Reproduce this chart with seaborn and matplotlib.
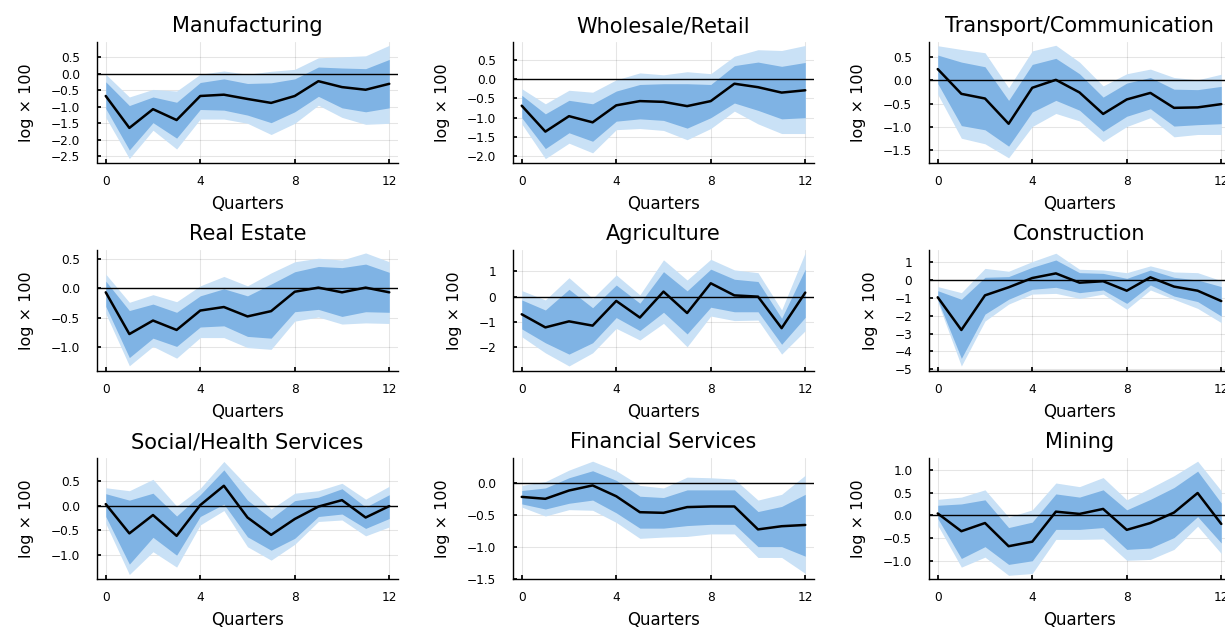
import matplotlib
matplotlib.use("Agg")
import matplotlib.pyplot as plt
from matplotlib.ticker import MultipleLocator
import numpy as np
import pandas as pd
import seaborn as sns

sns.set_theme(style="ticks")
plt.rcParams['font.family'] = ['DejaVu Sans']
plt.rcParams['text.color'] = 'black'
plt.rcParams['axes.labelcolor'] = 'black'

quarters = list(range(13))

titles = ["Manufacturing", "Wholesale/Retail", "Transport/Communication",
          "Real Estate", "Agriculture", "Construction",
          "Social/Health Services", "Financial Services", "Mining"]

# point estimates
mean_manu = [-0.67, -1.64, -1.07, -1.40, -0.67, -0.63, -0.76, -0.88, -0.67, -0.22, -0.40, -0.48, -0.30]
mean_whol = [-0.69, -1.36, -0.96, -1.12, -0.68, -0.57, -0.59, -0.70, -0.57, -0.12, -0.21, -0.35, -0.29]
mean_tran = [0.24, -0.29, -0.39, -0.93, -0.16, 0.01, -0.26, -0.72, -0.41, -0.27, -0.59, -0.58, -0.51]
mean_real = [-0.07, -0.78, -0.55, -0.71, -0.38, -0.32, -0.48, -0.39, -0.06, 0.01, -0.07, 0.01, -0.07]
mean_agri = [-0.70, -1.22, -0.98, -1.15, -0.17, -0.83, 0.20, -0.65, 0.53, 0.05, 0.00, -1.25, 0.16]
mean_cons = [-0.97, -2.80, -0.86, -0.41, 0.11, 0.37, -0.15, -0.07, -0.60, 0.15, -0.37, -0.60, -1.18]
mean_soci = [0.03, -0.56, -0.19, -0.61, 0.01, 0.40, -0.24, -0.59, -0.27, -0.02, 0.11, -0.24, -0.01]
mean_fina = [-0.22, -0.25, -0.12, -0.04, -0.21, -0.46, -0.47, -0.38, -0.37, -0.37, -0.73, -0.68, -0.66]
mean_mini = [0.04, -0.35, -0.17, -0.68, -0.58, 0.08, 0.03, 0.14, -0.32, -0.17, 0.06, 0.49, -0.19]

# inner band (upper / lower)
in_hi_manu = [-0.24, -0.96, -0.70, -0.86, -0.26, -0.15, -0.29, -0.27, -0.15, 0.21, 0.18, 0.16, 0.44]
in_lo_manu = [-1.05, -2.31, -1.48, -1.95, -1.08, -1.10, -1.25, -1.48, -1.15, -0.68, -1.03, -1.15, -1.03]
in_hi_whol = [-0.42, -0.90, -0.55, -0.64, -0.31, -0.14, -0.12, -0.12, -0.14, 0.35, 0.44, 0.33, 0.43]
in_lo_whol = [-1.00, -1.80, -1.39, -1.61, -1.09, -1.03, -1.07, -1.27, -1.00, -0.62, -0.81, -1.03, -1.00]
in_hi_tran = [0.54, 0.39, 0.29, -0.43, 0.34, 0.47, 0.14, -0.36, -0.06, 0.06, -0.19, -0.20, -0.13]
in_lo_tran = [-0.07, -0.97, -1.06, -1.41, -0.68, -0.43, -0.64, -1.09, -0.77, -0.61, -0.98, -0.95, -0.93]
in_hi_real = [0.12, -0.38, -0.27, -0.41, -0.13, -0.01, -0.13, 0.07, 0.28, 0.37, 0.35, 0.41, 0.27]
in_lo_real = [-0.31, -1.18, -0.85, -0.99, -0.66, -0.64, -0.82, -0.85, -0.40, -0.36, -0.48, -0.40, -0.41]
in_hi_agri = [-0.13, -0.53, 0.29, -0.44, 0.46, -0.26, 0.99, 0.23, 1.09, 0.69, 0.60, -0.86, 1.09]
in_lo_agri = [-1.28, -1.83, -2.28, -1.83, -0.83, -1.35, -0.62, -1.48, -0.42, -0.60, -0.60, -1.89, -0.82]
in_hi_cons = [-0.60, -1.08, 0.15, 0.19, 0.71, 1.12, 0.41, 0.37, 0.09, 0.56, 0.15, 0.00, -0.37]
in_lo_cons = [-1.12, -4.39, -1.91, -1.08, -0.52, -0.41, -0.71, -0.56, -1.31, -0.28, -0.90, -1.21, -2.02]
in_hi_soci = [0.24, 0.11, 0.25, -0.21, 0.22, 0.72, 0.11, -0.26, 0.10, 0.17, 0.34, -0.03, 0.22]
in_lo_soci = [-0.22, -1.18, -0.64, -1.00, -0.22, 0.03, -0.63, -0.90, -0.66, -0.22, -0.17, -0.46, -0.26]
in_hi_fina = [-0.12, -0.08, 0.08, 0.19, 0.04, -0.21, -0.23, -0.11, -0.11, -0.11, -0.45, -0.37, -0.18]
in_lo_fina = [-0.33, -0.41, -0.32, -0.27, -0.47, -0.71, -0.71, -0.67, -0.65, -0.65, -1.00, -1.00, -1.15]
in_hi_mini = [0.22, 0.25, 0.34, -0.27, -0.15, 0.47, 0.40, 0.56, 0.12, 0.35, 0.61, 0.97, 0.27]
in_lo_mini = [-0.07, -0.95, -0.69, -1.08, -1.00, -0.31, -0.31, -0.27, -0.75, -0.72, -0.49, -0.03, -0.61]

# outer band (upper / lower)
out_hi_manu = [-0.01, -0.70, -0.47, -0.52, -0.01, 0.09, -0.01, 0.08, 0.14, 0.49, 0.52, 0.55, 0.87]
out_lo_manu = [-1.32, -2.57, -1.71, -2.28, -1.37, -1.37, -1.50, -1.84, -1.50, -0.95, -1.32, -1.53, -1.50]
out_hi_whol = [-0.25, -0.64, -0.29, -0.34, -0.02, 0.16, 0.11, 0.19, 0.14, 0.59, 0.76, 0.74, 0.87]
out_lo_whol = [-1.16, -2.06, -1.66, -1.91, -1.31, -1.28, -1.33, -1.57, -1.28, -0.83, -1.16, -1.41, -1.41]
out_hi_tran = [0.74, 0.66, 0.59, -0.16, 0.63, 0.75, 0.39, -0.12, 0.14, 0.24, 0.06, 0.01, 0.13]
out_lo_tran = [-0.30, -1.24, -1.36, -1.66, -0.99, -0.71, -0.87, -1.31, -0.99, -0.80, -1.21, -1.16, -1.16]
out_hi_real = [0.24, -0.24, -0.11, -0.23, 0.04, 0.20, 0.04, 0.26, 0.45, 0.51, 0.48, 0.60, 0.45]
out_lo_real = [-0.43, -1.32, -0.99, -1.19, -0.84, -0.84, -1.01, -1.04, -0.56, -0.49, -0.61, -0.59, -0.60]
out_hi_agri = [0.24, -0.13, 0.75, -0.07, 0.86, 0.07, 1.46, 0.66, 1.48, 1.06, 0.95, -0.53, 1.75]
out_lo_agri = [-1.59, -2.23, -2.75, -2.23, -1.26, -1.72, -1.06, -1.99, -0.77, -0.95, -0.93, -2.28, -1.35]
out_hi_cons = [-0.37, -0.71, 0.65, 0.49, 1.03, 1.50, 0.60, 0.56, 0.41, 0.79, 0.45, 0.41, -0.04]
out_lo_cons = [-1.23, -4.82, -2.30, -1.35, -0.79, -0.75, -1.03, -0.79, -1.64, -0.56, -1.08, -1.59, -2.39]
out_hi_soci = [0.36, 0.30, 0.53, -0.01, 0.35, 0.89, 0.39, -0.07, 0.25, 0.30, 0.45, 0.13, 0.39]
out_lo_soci = [-0.36, -1.39, -0.93, -1.24, -0.39, -0.10, -0.83, -1.10, -0.78, -0.32, -0.29, -0.61, -0.43]
out_hi_fina = [-0.04, 0.02, 0.20, 0.34, 0.19, -0.04, -0.08, 0.09, 0.08, 0.06, -0.27, -0.18, 0.12]
out_lo_fina = [-0.38, -0.52, -0.42, -0.43, -0.62, -0.87, -0.85, -0.84, -0.80, -0.80, -1.17, -1.17, -1.42]
out_hi_mini = [0.35, 0.40, 0.56, -0.04, 0.12, 0.71, 0.63, 0.83, 0.34, 0.60, 0.87, 1.19, 0.54]
out_lo_mini = [-0.22, -1.14, -0.92, -1.32, -1.28, -0.53, -0.53, -0.52, -0.99, -0.97, -0.75, -0.24, -0.84]

means = [mean_manu, mean_whol, mean_tran, mean_real, mean_agri, mean_cons, mean_soci, mean_fina, mean_mini]
in_hi = [in_hi_manu, in_hi_whol, in_hi_tran, in_hi_real, in_hi_agri, in_hi_cons, in_hi_soci, in_hi_fina, in_hi_mini]
in_lo = [in_lo_manu, in_lo_whol, in_lo_tran, in_lo_real, in_lo_agri, in_lo_cons, in_lo_soci, in_lo_fina, in_lo_mini]
out_hi = [out_hi_manu, out_hi_whol, out_hi_tran, out_hi_real, out_hi_agri, out_hi_cons, out_hi_soci, out_hi_fina, out_hi_mini]
out_lo = [out_lo_manu, out_lo_whol, out_lo_tran, out_lo_real, out_lo_agri, out_lo_cons, out_lo_soci, out_lo_fina, out_lo_mini]

ylims = [(-2.69, 0.97), (-2.16, 0.96), (-1.76, 0.82),
         (-1.40, 0.65), (-2.93, 1.85), (-5.07, 1.68),
         (-1.47, 0.96), (-1.50, 0.39), (-1.39, 1.26)]
ystep = [0.5, 0.5, 0.5, 0.5, 1, 1, 0.5, 0.5, 0.5]

light = "#c9e1f6"
dark = "#7fb3e4"

fig = plt.figure(figsize=(12.25, 6.28), dpi=100)
W, H = 1225, 628
lefts = [97, 513, 929]
tops = [42, 250, 458]
aw, ah = 301, 120.5

for i, name in enumerate(titles):
    r, c = divmod(i, 3)
    ax = fig.add_axes([lefts[c] / W, 1 - (tops[r] + ah) / H, aw / W, ah / H])
    df = pd.DataFrame({"q": quarters, "m": means[i]})
    ax.fill_between(quarters, out_lo[i], out_hi[i], color=light, lw=0, zorder=1)
    ax.fill_between(quarters, in_lo[i], in_hi[i], color=dark, lw=0, zorder=2)
    ax.axhline(0, color="black", lw=1, zorder=3)
    sns.lineplot(data=df, x="q", y="m", ax=ax, color="black", lw=1.8, zorder=4)
    ax.set_xlim(-0.37, 12.37)
    ax.set_ylim(*ylims[i])
    ax.set_xticks([0, 4, 8, 12])
    ax.yaxis.set_major_locator(MultipleLocator(ystep[i]))
    ax.grid(True, color="black", alpha=0.1, lw=0.8)
    ax.set_axisbelow(True)
    for s in ["top", "right"]:
        ax.spines[s].set_visible(False)
    for s in ["left", "bottom"]:
        ax.spines[s].set_color("black")
        ax.spines[s].set_linewidth(1)
    ax.tick_params(axis="x", direction="in", length=3, pad=9, labelsize=8.7, colors="black")
    ax.tick_params(axis="y", direction="in", length=3, pad=12, labelsize=8.7, colors="black")
    ax.set_title(name, fontsize=15, pad=7, color="black")
    ax.set_xlabel("Quarters", fontsize=12, labelpad=5)
    ax.set_ylabel("log × 100", fontsize=11.5, labelpad=12)

fig.savefig("out.png", dpi=100)
